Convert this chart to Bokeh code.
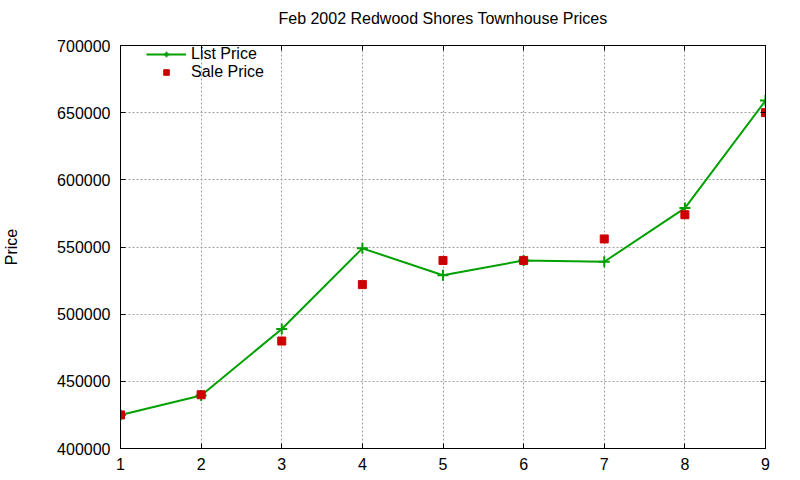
from bokeh.plotting import figure
from bokeh.models import (LinearAxis, Range1d, FixedTicker, Legend, LegendItem,
                          PrintfTickFormatter, CustomJSTickFormatter)
from bokeh.embed import file_html
from bokeh.resources import INLINE

# data
months = [1, 2, 3, 4, 5, 6, 7, 8, 9]
list_price = [425000, 439500, 489000, 549000, 529000, 540000, 539000, 579000, 659000]
sale_price = [425000, 440000, 480000, 522000, 540000, 540000, 556000, 574000, 650000]
x_ticks = [1, 2, 3, 4, 5, 6, 7, 8, 9]
y_ticks = [400000, 450000, 500000, 550000, 600000, 650000, 700000]

FONT = "Liberation Sans"
GREEN = "#00a000"
RED = "#cc0000"

p = figure(width=784, height=472, output_backend="svg", toolbar_location=None,
           x_range=Range1d(1, 9), y_range=Range1d(400000, 700000),
           min_border_left=119, min_border_right=19, min_border_top=45, min_border_bottom=24)

p.title.text = "Feb 2002 Redwood Shores Townhouse Prices"
p.title.align = "center"
p.title.text_font = FONT
p.title.text_font_size = "16px"
p.title.text_font_style = "normal"
p.title.text_color = "black"

p.outline_line_color = "black"
p.outline_line_width = 1
p.background_fill_color = "white"
p.border_fill_color = "white"

# grid
for g in (p.xgrid, p.ygrid):
    g.grid_line_color = "#a0a0a0"
    g.grid_line_dash = "2 2"
    g.grid_line_width = 1
p.xgrid.ticker = FixedTicker(ticks=x_ticks)
p.ygrid.ticker = FixedTicker(ticks=y_ticks)

# main axes
p.xaxis.ticker = FixedTicker(ticks=x_ticks)
p.yaxis.ticker = FixedTicker(ticks=y_ticks)
p.yaxis.formatter = PrintfTickFormatter(format="%d")
p.yaxis.axis_label = "Price"
p.yaxis.axis_label_standoff = 34
p.yaxis.axis_label_text_font_style = "normal"
p.yaxis.axis_label_text_color = "black"
for ax in (p.xaxis[0], p.yaxis[0]):
    ax.major_label_text_font = FONT
    ax.major_label_text_font_size = "16px"
    ax.major_label_text_color = "black"
    ax.axis_label_text_font = FONT
    ax.axis_label_text_font_size = "16px"
    ax.axis_line_color = "black"
    ax.major_tick_in = 5
    ax.major_tick_out = 0
    ax.minor_tick_line_color = None
p.xaxis.major_label_standoff = 9
p.yaxis.major_label_standoff = 10

# mirrored ticks on top and right, no labels; the top one also pushes the title up
blank = CustomJSTickFormatter(code="return ''")
top = LinearAxis(ticker=FixedTicker(ticks=x_ticks), formatter=blank,
                 major_tick_in=5, major_tick_out=0, minor_tick_line_color=None,
                 axis_line_color="black", major_label_standoff=0,
                 axis_label=" ", axis_label_text_font_size="10px", axis_label_standoff=0)
right = LinearAxis(ticker=FixedTicker(ticks=y_ticks), formatter=blank,
                   major_tick_in=5, major_tick_out=0, minor_tick_line_color=None,
                   axis_line_color="black", major_label_standoff=0)
p.add_layout(top, "above")
p.add_layout(right, "right")

# series
l1 = p.line(months, list_price, line_color=GREEN, line_width=2)
m1 = p.scatter(months, list_price, marker="cross", size=11, line_color=GREEN, line_width=2)
m2 = p.scatter(months, sale_price, marker="square", size=8, fill_color=RED, line_color=RED)

legend = Legend(items=[LegendItem(label="List Price", renderers=[l1, m1]),
                       LegendItem(label="Sale Price", renderers=[m2])],
                location=(26, 367))
legend.border_line_color = None
legend.background_fill_alpha = 0
legend.label_text_font = FONT
legend.label_text_font_size = "16px"
legend.label_text_color = "black"
legend.glyph_width = 40
legend.glyph_height = 14
legend.label_height = 14
legend.spacing = 0
legend.padding = 0
legend.margin = 0
p.add_layout(legend)

open("out.html", "w").write(file_html(p, INLINE))
